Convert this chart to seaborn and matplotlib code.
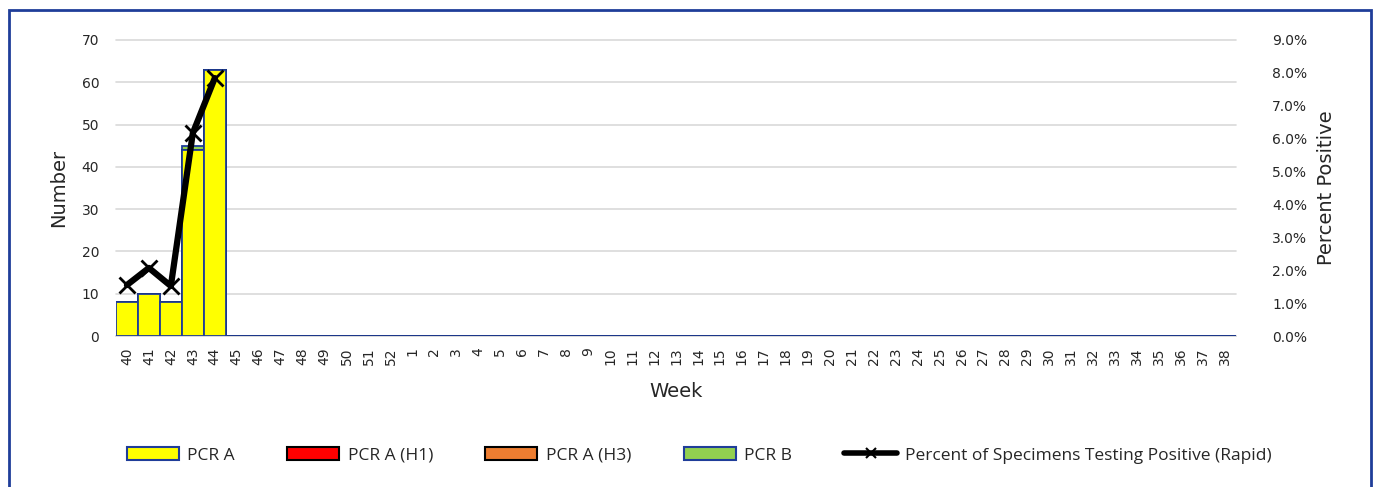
import numpy as np
import pandas as pd
import seaborn as sns
import matplotlib.pyplot as plt
from matplotlib.patches import Patch, Rectangle
from matplotlib.lines import Line2D
from matplotlib.ticker import PercentFormatter

weeks = [str(w) for w in list(range(40, 53)) + list(range(1, 39))]
pcr_a = [8, 10, 8, 44, 63]
pcr_h1 = [0, 0, 0, 0, 0]
pcr_h3 = [0, 0, 0, 0, 0]
pcr_b = [0, 0, 0, 1, 0]
pct_rapid = [1.55, 2.07, 1.52, 6.17, 7.84]

n = len(pcr_a)
pad = [0] * (len(weeks) - n)
df = pd.DataFrame({
    'week': weeks,
    'a': pcr_a + pad,
    'h1': pcr_h1 + pad,
    'h3': pcr_h3 + pad,
    'b': pcr_b + pad,
})
df['c_a'] = df['a']
df['c_h1'] = df['c_a'] + df['h1']
df['c_h3'] = df['c_h1'] + df['h3']
df['c_b'] = df['c_h3'] + df['b']

sns.set_style("white")
plt.rcParams['font.family'] = ['DejaVu Sans']

fig = plt.figure(figsize=(13.82, 4.87), dpi=100)
ax = fig.add_axes([0.0839, 0.310, 0.8105, 0.608])

edge = '#1F3D99'
layers = [('c_b', '#92D050', edge), ('c_h3', '#ED7D31', 'black'),
          ('c_h1', '#FF0000', 'black'), ('c_a', '#FFFF00', edge)]
for col, fc, ec in layers:
    sns.barplot(data=df, x='week', y=col, order=weeks, color=fc, width=1.0,
                edgecolor=ec, linewidth=1.3, saturation=1, ax=ax, zorder=3)

ax.set_ylim(0, 70)
ax.set_yticks(range(0, 71, 10))
ax.set_xlim(-0.5, len(weeks) - 0.5)
ax.grid(axis='y', color='#D9D9D9', linewidth=1.2, zorder=0, clip_on=False)
ax.set_axisbelow(True)
for s in ['top', 'right', 'left']:
    ax.spines[s].set_visible(False)
ax.spines['bottom'].set_color('#D9D9D9')
ax.spines['bottom'].set_linewidth(1.2)
ax.tick_params(axis='x', rotation=90, labelsize=10, length=0, pad=8, labelcolor='#262626')
ax.tick_params(axis='y', labelsize=10, length=0, pad=12, labelcolor='#262626')
ax.set_xlabel('Week', fontsize=14, labelpad=12)
ax.set_ylabel('Number', fontsize=14, labelpad=10)

ax2 = ax.twinx()
ax2.set_position(ax.get_position())
sns.lineplot(x=np.arange(len(pct_rapid)), y=pct_rapid, ax=ax2, color='black',
             linewidth=4.5, marker='x', markersize=11, markeredgewidth=2,
             markeredgecolor='black', zorder=5)
ax2.set_ylim(0, 9)
ax2.set_yticks(np.arange(0, 9.1, 1))
ax2.yaxis.set_major_formatter(PercentFormatter(decimals=1))
ax2.tick_params(axis='y', labelsize=10, length=0, pad=26, labelcolor='#262626')
ax2.set_ylabel('Percent Positive', fontsize=14, labelpad=7)
for s in ax2.spines.values():
    s.set_visible(False)

handles = [
    Patch(facecolor='#FFFF00', edgecolor=edge, linewidth=1.5, label='PCR A'),
    Patch(facecolor='#FF0000', edgecolor='black', linewidth=1.5, label='PCR A (H1)'),
    Patch(facecolor='#ED7D31', edgecolor='black', linewidth=1.5, label='PCR A (H3)'),
    Patch(facecolor='#92D050', edgecolor=edge, linewidth=1.5, label='PCR B'),
    Line2D([0], [0], color='black', linewidth=4, marker='x', markersize=7,
           markeredgewidth=1.5, label='Percent of Specimens Testing Positive (Rapid)'),
]
fig.legend(handles=handles, loc='center', bbox_to_anchor=(0.506, 0.065), ncol=5,
           frameon=False, handlelength=3.0, handleheight=0.75,
           handletextpad=0.5, columnspacing=3.0,
           prop={'family': 'Open Sans', 'size': 12.5})

fig.add_artist(Rectangle((9 / 1382, -0.05), 1362 / 1382, 1 - 10 / 487 + 0.05,
                         transform=fig.transFigure, fill=False,
                         edgecolor='#1F3D99', linewidth=2))

fig.savefig('out.png', dpi=100)
